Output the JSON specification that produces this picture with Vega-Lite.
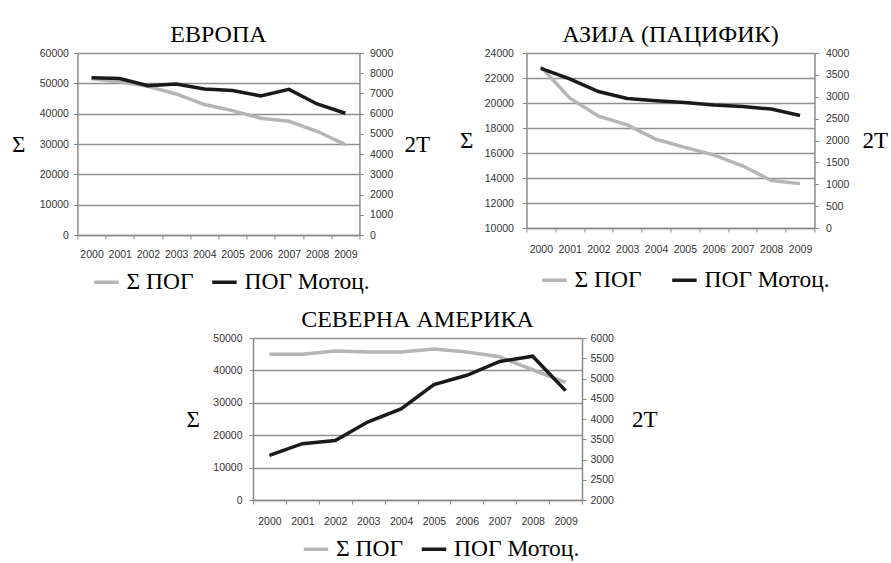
{
  "$schema": "https://vega.github.io/schema/vega-lite/v6.json",
  "background": "white",
  "padding": {"left": 11, "top": 23, "right": 5, "bottom": 0},
  "config": {
    "font": "Liberation Serif",
    "view": {"stroke": null},
    "axis": {"labelFont": "Liberation Sans", "labelFontSize": 10.5, "labelColor": "#333", "format": "d", "domainColor": "#8a8a8a", "domainWidth": 1.5, "tickColor": "#8a8a8a", "tickSize": 4, "gridColor": "#8f8f8f", "gridWidth": 1.3, "titleFont": "Liberation Serif", "titleFontSize": 23, "titleFontWeight": "normal", "titleColor": "#000"},
    "title": {"font": "Liberation Serif", "fontSize": 24, "fontWeight": "normal", "offset": 1},
    "legend": {"orient": "none", "direction": "horizontal", "symbolType": "stroke", "symbolStrokeWidth": 3.5, "symbolSize": 600, "labelFont": "Liberation Serif", "labelFontSize": 23.5, "labelColor": "#000", "title": null, "labelOffset": 6}
  },
  "datasets": {
    "d": [
      {"region": "EU", "year": "2000", "series": "Σ ПОГ", "value": 51500},
      {"region": "EU", "year": "2001", "series": "Σ ПОГ", "value": 50500},
      {"region": "EU", "year": "2002", "series": "Σ ПОГ", "value": 49000},
      {"region": "EU", "year": "2003", "series": "Σ ПОГ", "value": 46500},
      {"region": "EU", "year": "2004", "series": "Σ ПОГ", "value": 43000},
      {"region": "EU", "year": "2005", "series": "Σ ПОГ", "value": 41000},
      {"region": "EU", "year": "2006", "series": "Σ ПОГ", "value": 38500},
      {"region": "EU", "year": "2007", "series": "Σ ПОГ", "value": 37500},
      {"region": "EU", "year": "2008", "series": "Σ ПОГ", "value": 34200},
      {"region": "EU", "year": "2009", "series": "Σ ПОГ", "value": 29800},
      {"region": "EU", "year": "2000", "series": "ПОГ Мотоц.", "value": 7780},
      {"region": "EU", "year": "2001", "series": "ПОГ Мотоц.", "value": 7740},
      {"region": "EU", "year": "2002", "series": "ПОГ Мотоц.", "value": 7380},
      {"region": "EU", "year": "2003", "series": "ПОГ Мотоц.", "value": 7470},
      {"region": "EU", "year": "2004", "series": "ПОГ Мотоц.", "value": 7220},
      {"region": "EU", "year": "2005", "series": "ПОГ Мотоц.", "value": 7140},
      {"region": "EU", "year": "2006", "series": "ПОГ Мотоц.", "value": 6880},
      {"region": "EU", "year": "2007", "series": "ПОГ Мотоц.", "value": 7200},
      {"region": "EU", "year": "2008", "series": "ПОГ Мотоц.", "value": 6480},
      {"region": "EU", "year": "2009", "series": "ПОГ Мотоц.", "value": 6020},
      {"region": "AS", "year": "2000", "series": "Σ ПОГ", "value": 22900},
      {"region": "AS", "year": "2001", "series": "Σ ПОГ", "value": 20400},
      {"region": "AS", "year": "2002", "series": "Σ ПОГ", "value": 18950},
      {"region": "AS", "year": "2003", "series": "Σ ПОГ", "value": 18250},
      {"region": "AS", "year": "2004", "series": "Σ ПОГ", "value": 17100},
      {"region": "AS", "year": "2005", "series": "Σ ПОГ", "value": 16450},
      {"region": "AS", "year": "2006", "series": "Σ ПОГ", "value": 15850},
      {"region": "AS", "year": "2007", "series": "Σ ПОГ", "value": 14980},
      {"region": "AS", "year": "2008", "series": "Σ ПОГ", "value": 13800},
      {"region": "AS", "year": "2009", "series": "Σ ПОГ", "value": 13550},
      {"region": "AS", "year": "2000", "series": "ПОГ Мотоц.", "value": 3650},
      {"region": "AS", "year": "2001", "series": "ПОГ Мотоц.", "value": 3410},
      {"region": "AS", "year": "2002", "series": "ПОГ Мотоц.", "value": 3120},
      {"region": "AS", "year": "2003", "series": "ПОГ Мотоц.", "value": 2960},
      {"region": "AS", "year": "2004", "series": "ПОГ Мотоц.", "value": 2910},
      {"region": "AS", "year": "2005", "series": "ПОГ Мотоц.", "value": 2870},
      {"region": "AS", "year": "2006", "series": "ПОГ Мотоц.", "value": 2810},
      {"region": "AS", "year": "2007", "series": "ПОГ Мотоц.", "value": 2775},
      {"region": "AS", "year": "2008", "series": "ПОГ Мотоц.", "value": 2720},
      {"region": "AS", "year": "2009", "series": "ПОГ Мотоц.", "value": 2570},
      {"region": "NA", "year": "2000", "series": "Σ ПОГ", "value": 45000},
      {"region": "NA", "year": "2001", "series": "Σ ПОГ", "value": 45000},
      {"region": "NA", "year": "2002", "series": "Σ ПОГ", "value": 46000},
      {"region": "NA", "year": "2003", "series": "Σ ПОГ", "value": 45700},
      {"region": "NA", "year": "2004", "series": "Σ ПОГ", "value": 45700},
      {"region": "NA", "year": "2005", "series": "Σ ПОГ", "value": 46600},
      {"region": "NA", "year": "2006", "series": "Σ ПОГ", "value": 45700},
      {"region": "NA", "year": "2007", "series": "Σ ПОГ", "value": 44200},
      {"region": "NA", "year": "2008", "series": "Σ ПОГ", "value": 40200},
      {"region": "NA", "year": "2009", "series": "Σ ПОГ", "value": 36300},
      {"region": "NA", "year": "2000", "series": "ПОГ Мотоц.", "value": 3100},
      {"region": "NA", "year": "2001", "series": "ПОГ Мотоц.", "value": 3390},
      {"region": "NA", "year": "2002", "series": "ПОГ Мотоц.", "value": 3470},
      {"region": "NA", "year": "2003", "series": "ПОГ Мотоц.", "value": 3930},
      {"region": "NA", "year": "2004", "series": "ПОГ Мотоц.", "value": 4250},
      {"region": "NA", "year": "2005", "series": "ПОГ Мотоц.", "value": 4850},
      {"region": "NA", "year": "2006", "series": "ПОГ Мотоц.", "value": 5080},
      {"region": "NA", "year": "2007", "series": "ПОГ Мотоц.", "value": 5420},
      {"region": "NA", "year": "2008", "series": "ПОГ Мотоц.", "value": 5550},
      {"region": "NA", "year": "2009", "series": "ПОГ Мотоц.", "value": 4700}
    ]
  },
  "center": true,
  "spacing": 14,
  "resolve": {"scale": {"color": "independent"}, "legend": {"color": "independent"}},
  "vconcat": [
    {
      "spacing": 29,
      "resolve": {"scale": {"color": "independent"}, "legend": {"color": "independent"}},
      "hconcat": [
        {
          "title": {"text": "ЕВРОПА"},
          "width": 282, "height": 182,
          "data": {"name": "d"},
          "transform": [{"filter": "datum.region === 'EU'"}],
          "encoding": {"x": {"field": "year", "type": "ordinal", "scale": {"type": "band", "paddingInner": 0, "paddingOuter": 0}, "axis": {"title": null, "labelAngle": 0, "tickBand": "extent", "labelPadding": 10}}},
          "layer": [
            {"transform": [{"filter": "datum.series === 'Σ ПОГ'"}], "mark": {"type": "line", "strokeWidth": 3.5},
             "encoding": {"y": {"field": "value", "type": "quantitative", "scale": {"domain": [0, 60000], "nice": false}, "axis": {"title": "Σ", "titleAngle": 0, "titleAlign": "center", "titleBaseline": "middle", "titlePadding": 21, "labelPadding": 5, "values": [0, 10000, 20000, 30000, 40000, 50000, 60000], "grid": true}},
               "color": {"field": "series", "type": "nominal", "scale": {"domain": ["Σ ПОГ", "ПОГ Мотоц."], "range": ["#b5b5b5", "#1a1a1a"]}, "legend": {"legendX": 15, "legendY": 215, "columnPadding": 10}}}},
            {"transform": [{"filter": "datum.series === 'ПОГ Мотоц.'"}], "mark": {"type": "line", "strokeWidth": 3.5},
             "encoding": {"y": {"field": "value", "type": "quantitative", "scale": {"domain": [0, 9000], "nice": false}, "axis": {"orient": "right", "title": "2T", "titleAngle": 0, "titleAlign": "center", "titleBaseline": "middle", "titlePadding": 24, "labelPadding": 6, "values": [0, 1000, 2000, 3000, 4000, 5000, 6000, 7000, 8000, 9000], "grid": false}},
               "color": {"field": "series", "type": "nominal"}}}
          ],
          "resolve": {"scale": {"y": "independent"}}
        },
        {
          "title": {"text": "АЗИЈА (ПАЦИФИК)"},
          "width": 288, "height": 175,
          "data": {"name": "d"},
          "transform": [{"filter": "datum.region === 'AS'"}],
          "encoding": {"x": {"field": "year", "type": "ordinal", "scale": {"type": "band", "paddingInner": 0, "paddingOuter": 0}, "axis": {"title": null, "labelAngle": 0, "tickBand": "extent", "labelPadding": 12}}},
          "layer": [
            {"transform": [{"filter": "datum.series === 'Σ ПОГ'"}], "mark": {"type": "line", "strokeWidth": 3.5},
             "encoding": {"y": {"field": "value", "type": "quantitative", "scale": {"domain": [10000, 24000], "nice": false}, "axis": {"title": "Σ", "titleAngle": 0, "titleAlign": "center", "titleBaseline": "middle", "titlePadding": 18, "labelPadding": 9, "values": [10000, 12000, 14000, 16000, 18000, 20000, 22000, 24000], "grid": true}},
               "color": {"field": "series", "type": "nominal", "scale": {"domain": ["Σ ПОГ", "ПОГ Мотоц."], "range": ["#b5b5b5", "#1a1a1a"]}, "legend": {"legendX": 14, "legendY": 213, "columnPadding": 22}}}},
            {"transform": [{"filter": "datum.series === 'ПОГ Мотоц.'"}], "mark": {"type": "line", "strokeWidth": 3.5},
             "encoding": {"y": {"field": "value", "type": "quantitative", "scale": {"domain": [0, 4000], "nice": false}, "axis": {"orient": "right", "title": "2T", "titleAngle": 0, "titleAlign": "center", "titleBaseline": "middle", "titlePadding": 26, "labelPadding": 7, "values": [0, 500, 1000, 1500, 2000, 2500, 3000, 3500, 4000], "grid": false}},
               "color": {"field": "series", "type": "nominal"}}}
          ],
          "resolve": {"scale": {"y": "independent"}}
        }
      ]
    },
    {
      "title": {"text": "СЕВЕРНА АМЕРИКА"},
      "width": 329, "height": 162,
      "data": {"name": "d"},
      "transform": [{"filter": "datum.region === 'NA'"}],
      "encoding": {"x": {"field": "year", "type": "ordinal", "scale": {"type": "band", "paddingInner": 0, "paddingOuter": 0}, "axis": {"title": null, "labelAngle": 0, "tickBand": "extent", "labelPadding": 12}}},
      "layer": [
        {"transform": [{"filter": "datum.series === 'Σ ПОГ'"}], "mark": {"type": "line", "strokeWidth": 3.5},
         "encoding": {"y": {"field": "value", "type": "quantitative", "scale": {"domain": [0, 50000], "nice": false}, "axis": {"title": "Σ", "titleAngle": 0, "titleAlign": "center", "titleBaseline": "middle", "titlePadding": 20, "labelPadding": 7, "values": [0, 10000, 20000, 30000, 40000, 50000], "grid": true}},
           "color": {"field": "series", "type": "nominal", "scale": {"domain": ["Σ ПОГ", "ПОГ Мотоц."], "range": ["#b5b5b5", "#1a1a1a"]}, "legend": {"legendX": 49, "legendY": 197, "columnPadding": 10, "title": ".", "titleOrient": "right", "titleFontSize": 6, "titleOpacity": 0, "titlePadding": 131}}}},
        {"transform": [{"filter": "datum.series === 'ПОГ Мотоц.'"}], "mark": {"type": "line", "strokeWidth": 3.5},
         "encoding": {"y": {"field": "value", "type": "quantitative", "scale": {"domain": [2000, 6000], "nice": false}, "axis": {"orient": "right", "title": "2T", "titleAngle": 0, "titleAlign": "center", "titleBaseline": "middle", "titlePadding": 31, "labelPadding": 4, "values": [2000, 2500, 3000, 3500, 4000, 4500, 5000, 5500, 6000], "grid": false}},
           "color": {"field": "series", "type": "nominal"}}}
      ],
      "resolve": {"scale": {"y": "independent"}}
    }
  ]
}
